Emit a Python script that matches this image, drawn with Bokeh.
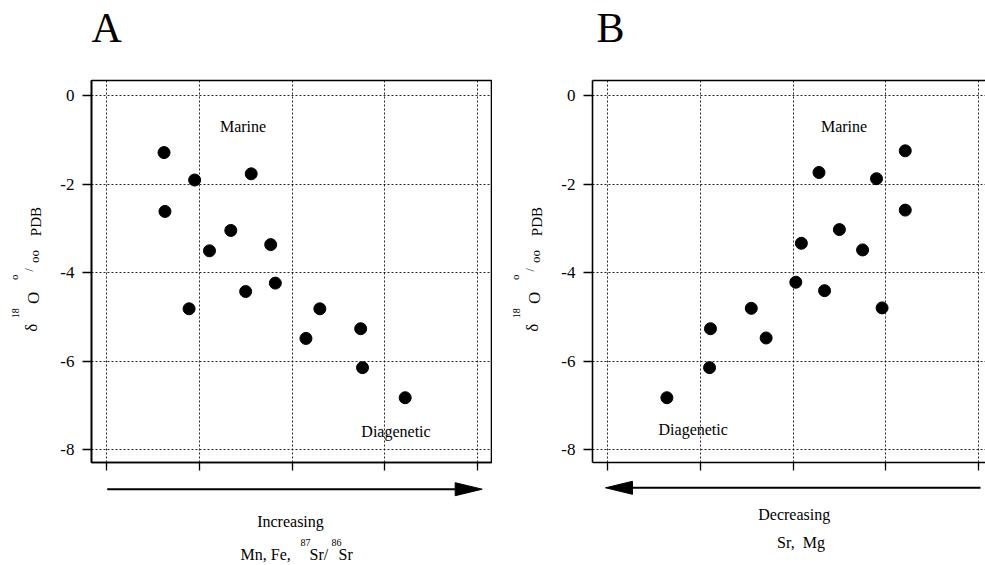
import numpy as np
from bokeh.plotting import figure
from bokeh.layouts import row, column
from bokeh.models import FixedTicker, LinearAxis, Range1d
from bokeh.core.properties import value
from bokeh.embed import file_html
from bokeh.resources import INLINE

FONT = "Liberation Serif"

# ---- data ----
a_x = [0.62, 0.95, 1.56, 0.63, 1.34, 1.11, 1.77, 1.50, 1.82, 0.89, 2.30, 2.15, 2.74, 2.76, 3.22]
a_y = [-1.29, -1.91, -1.77, -2.62, -3.05, -3.51, -3.37, -4.43, -4.24, -4.82, -4.82, -5.49, -5.27, -6.15, -6.83]
b_x = [3.21, 2.28, 2.90, 3.21, 2.50, 2.09, 2.75, 2.03, 2.34, 1.55, 2.96, 1.11, 1.71, 1.10, 0.64]
b_y = [-1.25, -1.74, -1.88, -2.59, -3.03, -3.34, -3.49, -4.22, -4.41, -4.81, -4.80, -5.27, -5.48, -6.15, -6.83]

y_ticks = [0, -2, -4, -6, -8]
y_tick_labels = ["0", "-2", "-4", "-6", "-8"]
x_grid = [0, 1, 2, 3, 4]

# ---- layout constants (page pixels) ----
W, H = 985, 565
TOP_H = 75          # strip holding panel letters
MID_H = 400         # strip holding the plots
BOT_H = H - TOP_H - MID_H
X0, Y1 = -0.162, 0.339
PX_X, PX_Y = 92.75, 44.25
FRAME_TOP, FRAME_BOTTOM = 80, 462
K = 0.38            # baseline correction (fraction of font size)


def aux(ox, oy, w, h):
    """Blank figure whose coordinates are page pixels (y negated)."""
    p = figure(width=w, height=h, x_range=Range1d(ox, ox + w),
               y_range=Range1d(-(oy + h), -oy), min_border=0,
               toolbar_location=None, output_backend="svg",
               x_axis_location=None, y_axis_location=None)
    p.grid.visible = False
    p.outline_line_color = None
    p.background_fill_color = "white"
    p.border_fill_color = "white"
    return p


def txt(p, xs, ys, texts, size, align="left", rotated=False):
    if rotated:
        xs = [v - K * size for v in xs]
        ang = np.pi / 2
    else:
        ys = [v - K * size for v in ys]
        ang = 0.0
    p.text(x=xs, y=[-v for v in ys], text=texts, text_font=value(FONT),
           text_font_size=value(f"{size}px"), text_align=align,
           text_baseline="alphabetic", angle=ang, text_color="black")


def make_panel(width, left, right_border):
    frame_w = width - left - right_border
    x_end = X0 + frame_w / PX_X
    y_start = Y1 - (FRAME_BOTTOM - FRAME_TOP) / PX_Y
    p = figure(width=width, height=MID_H, x_range=Range1d(X0, x_end),
               y_range=Range1d(y_start, Y1), output_backend="svg",
               toolbar_location=None, min_border_left=left,
               min_border_right=right_border,
               min_border_top=FRAME_TOP - TOP_H,
               min_border_bottom=TOP_H + MID_H - FRAME_BOTTOM)
    p.background_fill_color = "white"
    p.border_fill_color = "white"
    # x axis: tick marks only
    p.xaxis.ticker = FixedTicker(ticks=x_grid)
    p.xaxis.major_label_overrides = {t: "" for t in x_grid}
    p.xaxis.major_label_text_font_size = "1px"
    p.xaxis.major_label_standoff = 0
    p.xaxis.major_tick_out = 8
    p.xaxis.major_tick_in = 0
    p.xaxis.minor_tick_line_color = None
    p.xaxis.axis_line_width = 1.6
    p.xaxis.major_tick_line_width = 1.3
    # y axis
    p.yaxis.ticker = FixedTicker(ticks=y_ticks)
    p.yaxis.major_label_overrides = {t: s for t, s in zip(y_ticks, y_tick_labels)}
    p.yaxis.major_label_text_font = FONT
    p.yaxis.major_label_text_font_size = "17px"
    p.yaxis.major_label_text_color = "black"
    p.yaxis.major_tick_out = 9
    p.yaxis.major_tick_in = 0
    p.yaxis.major_label_standoff = 8
    p.yaxis.minor_tick_line_color = None
    p.yaxis.axis_line_width = 1.6
    p.yaxis.major_tick_line_width = 1.6
    # dotted grid
    p.grid.grid_line_color = "black"
    p.grid.grid_line_dash = "2 2"
    p.grid.grid_line_width = 1
    p.grid.grid_line_alpha = 0.85
    return p


def frame_text(p, page_left, pxs, pys, texts, size, align="center"):
    xs = [X0 + (px - page_left) / PX_X for px in pxs]
    ys = [Y1 - (py - K * size - FRAME_TOP) / PX_Y for py in pys]
    p.text(x=xs, y=ys, text=texts, text_font=value(FONT),
           text_font_size=value(f"{size}px"), text_align=align,
           text_baseline="alphabetic", text_color="black")


def y_label(p, dx):
    txt(p, [37 + dx], [338], ["δ"], 17, rotated=True)
    txt(p, [19 + dx], [324], ["18"], 10, rotated=True)
    txt(p, [39 + dx], [309], ["O"], 17, rotated=True)
    txt(p, [18 + dx], [284], ["o"], 11, rotated=True)
    txt(p, [33 + dx], [275], ["/"], 12, rotated=True)
    txt(p, [39 + dx], [266], ["oo"], 13, rotated=True)
    txt(p, [41 + dx], [238], ["PDB"], 15, rotated=True)


def arrow(p, x_from, x_to, y, head_len, half_w):
    d = np.sign(x_to - x_from)
    base = x_to - d * head_len
    p.line([x_from, base + d * 2], [-y, -y], line_width=2, line_color="black")
    p.patch([base, x_to, base], [-(y - half_w), -y, -(y + half_w)],
            fill_color="black", line_color="black", line_width=1)


# ---- top strip: panel letters ----
top = aux(0, 0, W, TOP_H)
txt(top, [91, 596], [43, 43], ["A", "B"], 42)

# ---- panel A ----
ylabA = aux(0, TOP_H, 55, MID_H)
y_label(ylabA, 0)
pA = make_panel(437, 36, 1)
pA.outline_line_color = "black"
pA.outline_line_width = 1.6
pA.scatter(a_x, a_y, size=12, color="black")
frame_text(pA, 91, [242.5, 395.5], [132.5, 437], ["Marine", "Diagenetic"], 16)

# ---- panel B ----
ylabB = aux(492, TOP_H, 55, MID_H)
y_label(ylabB, 501)
pB = make_panel(438, 45, 0)
pB.outline_line_color = None
top_axis = LinearAxis(ticker=FixedTicker(ticks=[]), major_tick_line_color=None,
                      minor_tick_line_color=None, axis_line_width=1.6,
                      axis_line_color="black")
pB.add_layout(top_axis, "above")
pB.scatter(b_x, b_y, size=12, color="black")
frame_text(pB, 592, [843.5, 692.7], [132, 435], ["Marine", "Diagenetic"], 16)

# ---- bottom strip: arrows and captions ----
bot = aux(0, TOP_H + MID_H, W, BOT_H)
arrow(bot, 106.7, 481.7, 488.7, 27, 6.5)
arrow(bot, 980, 605, 487.3, 27, 6.5)
txt(bot, [290, 793.7, 800.5], [527, 520, 548],
    ["Increasing", "Decreasing", "Sr,\u00a0\u00a0Mg"], 16, align="center")
txt(bot, [240, 309, 338], [560, 560, 560], ["Mn, Fe,", "Sr/", "Sr"], 16)
txt(bot, [300, 331], [546, 546], ["87", "86"], 10)

layout = column(top, row(ylabA, pA, ylabB, pB), bot)
open("out.html", "w").write(file_html(layout, INLINE))
